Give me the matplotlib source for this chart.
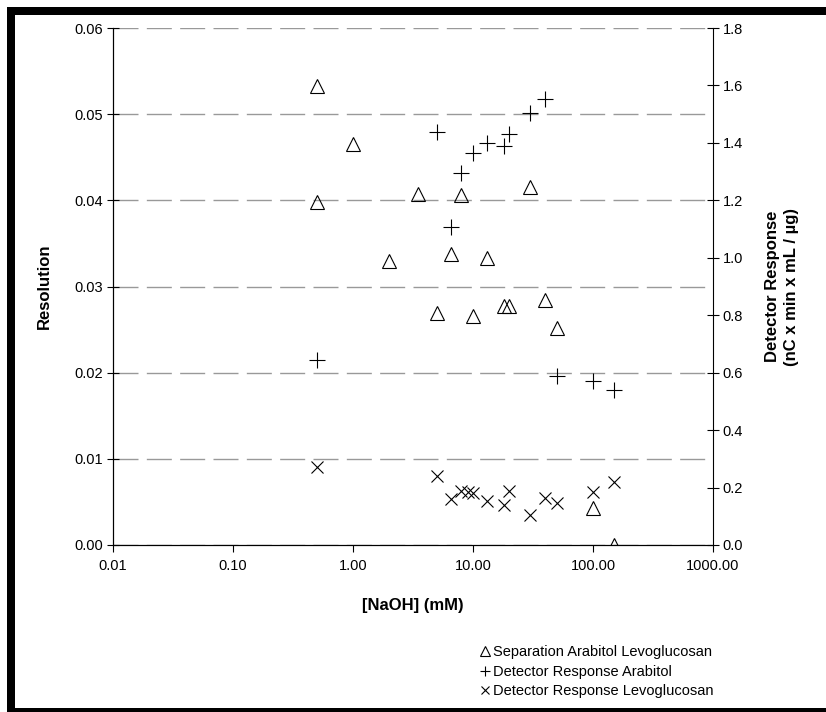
import numpy as np
import matplotlib
matplotlib.use('Agg')
import matplotlib.pyplot as plt
from matplotlib.patches import Rectangle
from matplotlib.ticker import FixedLocator, FormatStrFormatter

plt.rcParams['font.family'] = ['Liberation Sans', 'DejaVu Sans']
plt.rcParams['font.size'] = 8.5

# Resolution (left axis)
sep_x = [0.5, 1.0, 0.5, 3.5, 8.0, 30, 2.0, 6.5, 13, 5.0, 10, 18, 20, 40, 50, 100, 150]
sep_y = [0.0533, 0.0465, 0.0398, 0.0407, 0.0406, 0.0416, 0.0330, 0.0338, 0.0333,
         0.0269, 0.0266, 0.0277, 0.0277, 0.0284, 0.0252, 0.0043, 0.0]

# Detector response arabitol (right axis)
ara_x = [0.5, 5.0, 8.0, 6.5, 10, 13, 18, 20, 30, 40, 50, 100, 150]
ara_y = [0.645, 1.438, 1.295, 1.107, 1.365, 1.40, 1.389, 1.431, 1.504, 1.553, 0.588, 0.571, 0.54]

# Detector response levoglucosan (right axis)
levo_x = [0.5, 5.0, 6.5, 8.0, 9.0, 10, 13, 18, 20, 30, 40, 50, 100, 150]
levo_y = [0.272, 0.240, 0.160, 0.188, 0.185, 0.181, 0.153, 0.139, 0.188, 0.104, 0.164, 0.146,
          0.185, 0.219]

x_ticks = [0.01, 0.1, 1, 10, 100, 1000]
left_ticks = [0.0, 0.01, 0.02, 0.03, 0.04, 0.05, 0.06]
right_ticks = [0.0, 0.2, 0.4, 0.6, 0.8, 1.0, 1.2, 1.4, 1.6, 1.8]

fig = plt.figure(figsize=(8.26, 7.12), dpi=100)
ax = fig.add_axes([113 / 826, 167 / 712, 600 / 826, 517 / 712])
ax2 = ax.twinx()

ax.set_xscale('log')
ax.set_xlim(0.01, 1000)
ax.set_ylim(0, 0.06)
ax2.set_ylim(0, 1.8)

ax.xaxis.set_major_locator(FixedLocator(x_ticks))
ax.xaxis.set_minor_locator(FixedLocator([]))
ax.xaxis.set_major_formatter(FormatStrFormatter('%.2f'))
ax.set_yticks(left_ticks)
ax.yaxis.set_major_formatter(FormatStrFormatter('%.2f'))
ax2.set_yticks(right_ticks)
ax2.yaxis.set_major_formatter(FormatStrFormatter('%.1f'))

for a in (ax, ax2):
    a.spines['top'].set_visible(False)
    a.set_facecolor('none')
for s in ('left', 'bottom', 'right'):
    ax2.spines[s].set_linewidth(0.8)
ax.spines['right'].set_visible(False)
ax.spines['left'].set_linewidth(0.8)
ax.spines['bottom'].set_linewidth(0.8)

ax.tick_params(axis='x', direction='out', length=5, width=0.8, labelsize=10.5, pad=5)
ax.tick_params(axis='y', direction='inout', length=8, width=0.8, labelsize=10.5, pad=3)
ax2.tick_params(axis='y', direction='inout', length=8, width=0.8, labelsize=10.5, pad=3)

ax.grid(axis='y', color='#999999', linewidth=1.0, dashes=(18, 6))
ax.grid(axis='x', visible=False)
ax.set_axisbelow(True)

mk = dict(linestyle='none', color='black', markeredgecolor='black', markersize=9.5,
          markeredgewidth=0.8, fillstyle='none')
h1, = ax.plot(sep_x, sep_y, marker='^', **mk)
h2, = ax2.plot(ara_x, ara_y, marker='+', **{**mk, 'markersize': 11})
h3, = ax2.plot(levo_x, levo_y, marker='x', **{**mk, 'markersize': 9})

ax.set_xlabel('[NaOH] (mM)', fontsize=12, fontweight='bold', labelpad=18)
ax.set_ylabel('Resolution', fontsize=12, fontweight='bold', labelpad=16)
ax2.set_ylabel('Detector Response\n(nC x min x mL / µg)', fontsize=12, fontweight='bold',
               labelpad=16, linespacing=1.3)

fig.legend([h1, h2, h3],
           ['Separation Arabitol Levoglucosan', 'Detector Response Arabitol',
            'Detector Response Levoglucosan'],
           loc='upper left', bbox_to_anchor=(473 / 826, 1 - 638 / 712), frameon=False,
           fontsize=10.5, handlelength=0.6, handletextpad=0.3, markerscale=0.7,
           labelspacing=0.38, borderpad=0)

# black frame from the original screenshot
fig.patches.append(Rectangle((7 / 826, 1 - 15 / 712), 1, 8 / 712, transform=fig.transFigure,
                             facecolor='black', edgecolor='none'))
fig.patches.append(Rectangle((7 / 826, 0), 8 / 826, 1 - 7 / 712, transform=fig.transFigure,
                             facecolor='black', edgecolor='none'))
fig.patches.append(Rectangle((7 / 826, 0), 1, 4 / 712, transform=fig.transFigure,
                             facecolor='black', edgecolor='none'))

fig.savefig('out.png', dpi=100, facecolor='white')
